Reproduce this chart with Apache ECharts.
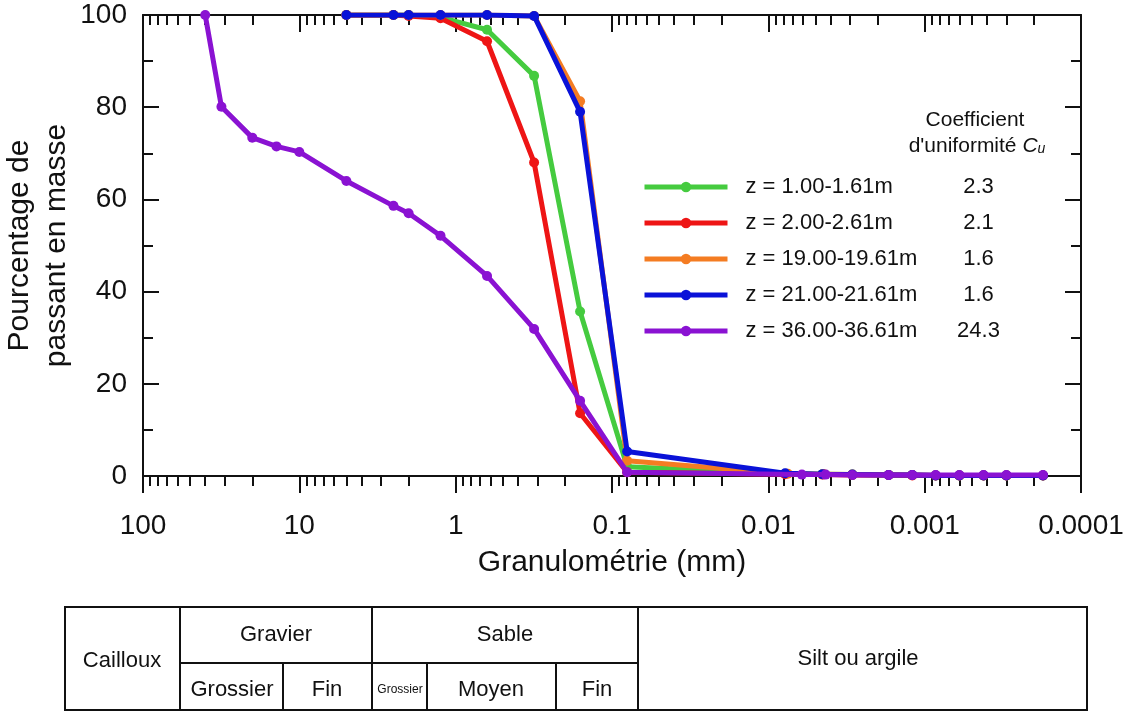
<!DOCTYPE html>
<html>
<head>
<meta charset="utf-8">
<title>Granulométrie</title>
<script src="https://cdn.jsdelivr.net/npm/echarts@6/dist/echarts.min.js"></script>
<style>
  html, body { margin: 0; padding: 0; background: #fff; }
  #main { width: 1129px; height: 712px; }
</style>
</head>
<body>
<div id="main"></div>
<script>
// séries (diamètre en mm, % passant)
var names = ['z = 1.00-1.61m', 'z = 2.00-2.61m', 'z = 19.00-19.61m', 'z = 21.00-21.61m', 'z = 36.00-36.61m'];
var cu = ['2.3', '2.1', '1.6', '1.6', '24.3'];
var colors = ['#45cb3f', '#ee1515', '#f47c22', '#0a12d8', '#8a12d2'];

var z1 = [[5, 100], [2.5, 100], [2, 100], [1.25, 99.5], [0.63, 96.8], [0.315, 86.8], [0.16, 35.7], [0.08, 2.0],
  [0.0078, 0.5], [0.0045, 0.4], [0.0029, 0.3], [0.0017, 0.2], [0.0012, 0.2], [0.00085, 0.1], [0.0006, 0.1], [0.00042, 0.1], [0.0003, 0.1], [0.000175, 0.1]];
var z2 = [[5, 100], [2.5, 100], [2, 99.8], [1.25, 99.3], [0.63, 94.3], [0.315, 68], [0.16, 13.6], [0.08, 0.8],
  [0.0078, 0.4], [0.0045, 0.3], [0.0029, 0.2], [0.0017, 0.2], [0.0012, 0.1], [0.00085, 0.1], [0.0006, 0.1], [0.00042, 0.1], [0.0003, 0.1], [0.000175, 0.1]];
var z19 = [[5, 100], [2.5, 100], [2, 100], [1.25, 100], [0.63, 100], [0.315, 99.8], [0.16, 81.3], [0.08, 3.3],
  [0.0075, 0.5], [0.0044, 0.4], [0.0029, 0.3], [0.0017, 0.2], [0.0012, 0.2], [0.00085, 0.1], [0.0006, 0.1], [0.00042, 0.1], [0.0003, 0.1], [0.000175, 0.1]];
var z21 = [[5, 100], [2.5, 100], [2, 100], [1.25, 100], [0.63, 100], [0.315, 99.8], [0.16, 79], [0.08, 5.3],
  [0.0078, 0.6], [0.0045, 0.4], [0.0029, 0.3], [0.0017, 0.2], [0.0012, 0.2], [0.00085, 0.1], [0.0006, 0.1], [0.00042, 0.1], [0.0003, 0.1], [0.000175, 0.1]];
var z36 = [[40, 100], [31.5, 80.1], [20, 73.4], [14, 71.5], [10, 70.3], [5, 64], [2.5, 58.6], [2, 57], [1.25, 52.1],
  [0.63, 43.4], [0.315, 31.9], [0.16, 16.3], [0.08, 0.8],
  [0.0061, 0.3], [0.0043, 0.3], [0.0029, 0.2], [0.0017, 0.2], [0.0012, 0.2], [0.00085, 0.2], [0.0006, 0.2], [0.00042, 0.2], [0.0003, 0.2], [0.000175, 0.2]];
var seriesData = [z1, z2, z19, z21, z36];

var yTicks = [0, 20, 40, 60, 80, 100];

// graduations secondaires 2..9 x 10^n (en log10)
var minorLog = [];
for (var n = -4; n < 2; n++) {
  for (var k = 2; k <= 9; k++) minorLog.push(n + Math.log10(k));
}

var font = 'Liberation Sans, Arial, sans-serif';
var black = '#111';

var myChart = echarts.init(document.getElementById('main'));

var series = names.map(function (nm, i) {
  return {
    name: nm,
    type: 'line',
    data: seriesData[i],
    symbol: 'circle',
    symbolSize: 10,
    lineStyle: { width: 5, color: colors[i] },
    itemStyle: { color: colors[i] },
    z: 2 + i
  };
});

function legendLabel(nm) {
  var i = names.indexOf(nm);
  return '{n|' + nm + '}{c|' + cu[i] + '}';
}

// tableau des classes granulométriques (sous le graphique)
var tableLines = [
  [180, 607, 180, 710], [372, 607, 372, 710], [638, 607, 638, 710],
  [180, 663, 638, 663],
  [283, 663, 283, 710], [427, 663, 427, 710], [556, 663, 556, 710]
];
var tableTexts = [
  ['Cailloux', 122, 661, 22], ['Gravier', 276, 635, 22], ['Sable', 505, 635, 22],
  ['Silt ou argile', 858, 659, 22], ['Grossier', 232, 690, 22], ['Fin', 327, 690, 22],
  ['Grossier', 400, 690, 12], ['Moyen', 491, 690, 22], ['Fin', 597, 690, 22]
];

var graphics = [{
  type: 'rect', shape: { x: 65, y: 607, width: 1022, height: 103 },
  style: { fill: 'none', stroke: black, lineWidth: 2 }
}];
tableLines.forEach(function (l) {
  graphics.push({ type: 'line', shape: { x1: l[0], y1: l[1], x2: l[2], y2: l[3] }, style: { stroke: black, lineWidth: 2 } });
});
tableTexts.forEach(function (t) {
  graphics.push({ type: 'text', x: t[1], y: t[2], style: { text: t[0], font: t[3] + 'px ' + font, fill: black, align: 'center', verticalAlign: 'middle' } });
});
graphics.push({ type: 'text', x: 975, y: 120, style: { text: 'Coefficient', font: '21px ' + font, fill: black, align: 'center', verticalAlign: 'middle' } });
graphics.push({
  type: 'text', x: 977, y: 146,
  style: {
    text: "{a|d'uniformité }{i|C}{s|u}", align: 'center', verticalAlign: 'middle', fill: black,
    rich: {
      a: { fontFamily: font, fontSize: 21, color: black },
      i: { fontFamily: font, fontSize: 21, fontStyle: 'italic', color: black },
      s: { fontFamily: font, fontSize: 14, fontStyle: 'italic', color: black, padding: [7, 0, 0, 0] }
    }
  }
});

var option = {
  animation: false,
  backgroundColor: '#fff',
  textStyle: { fontFamily: font },
  grid: { left: 143, right: 48, top: 15, bottom: 236, containLabel: false, outerBoundsMode: 'none' },
  legend: {
    orient: 'vertical',
    left: 637,
    top: 171,
    itemWidth: 83,
    itemHeight: 13,
    itemGap: 14,
    data: names,
    formatter: legendLabel,
    lineStyle: { width: 5 },
    textStyle: {
      rich: {
        n: { fontFamily: font, fontSize: 22, color: black, width: 203, padding: [0, 0, 0, 13] },
        c: { fontFamily: font, fontSize: 22, color: black, width: 60, align: 'center' }
      }
    }
  },
  xAxis: [{
    type: 'log',
    logBase: 10,
    min: 0.0001,
    max: 100,
    inverse: true,
    position: 'bottom',
    name: 'Granulométrie (mm)',
    nameLocation: 'middle',
    nameGap: 72,
    nameTextStyle: { fontSize: 30, color: black, fontFamily: font },
    axisLine: { onZero: false, lineStyle: { color: black, width: 2 } },
    axisTick: { length: 17, lineStyle: { color: black, width: 2 } },
    axisLabel: {
      fontSize: 28, color: black, margin: 36, fontFamily: font,
      formatter: function (v) { return String(parseFloat(v.toPrecision(6))); }
    },
    splitLine: { show: false }
  }, {
    type: 'value', min: -4, max: 2, inverse: true, position: 'bottom',
    axisLine: { show: false, onZero: false },
    axisTick: { length: 10, customValues: minorLog, lineStyle: { color: black, width: 2 } },
    axisLabel: { show: false },
    splitLine: { show: false }
  }, {
    type: 'value', min: -4, max: 2, interval: 1, inverse: true, position: 'top',
    axisLine: { onZero: false, lineStyle: { color: black, width: 2 } },
    axisTick: { inside: true, length: 17, lineStyle: { color: black, width: 2 } },
    axisLabel: { show: false },
    splitLine: { show: false }
  }, {
    type: 'value', min: -4, max: 2, inverse: true, position: 'top',
    axisLine: { show: false, onZero: false },
    axisTick: { inside: true, length: 10, customValues: minorLog, lineStyle: { color: black, width: 2 } },
    axisLabel: { show: false },
    splitLine: { show: false }
  }],
  yAxis: [{
    type: 'value', min: 0, max: 100, interval: 20, position: 'left',
    name: 'Pourcentage de\npassant en masse',
    nameLocation: 'middle',
    nameGap: 68,
    nameMoveOverlap: false,
    nameTextStyle: { fontSize: 30, color: black, lineHeight: 37, fontFamily: font },
    axisLine: { show: true, onZero: false, lineStyle: { color: black, width: 2 } },
    axisTick: { show: true, inside: true, length: 16, lineStyle: { color: black, width: 2 } },
    minorTick: { show: true, splitNumber: 2, length: 10, lineStyle: { color: black, width: 2 } },
    axisLabel: { fontSize: 28, color: black, margin: 16, fontFamily: font, customValues: yTicks },
    splitLine: { show: false }
  }, {
    type: 'value', min: 0, max: 100, interval: 20, position: 'right',
    axisLine: { show: true, onZero: false, lineStyle: { color: black, width: 2 } },
    axisTick: { show: true, inside: true, length: 16, lineStyle: { color: black, width: 2 } },
    minorTick: { show: true, splitNumber: 2, length: 10, lineStyle: { color: black, width: 2 } },
    axisLabel: { show: false },
    splitLine: { show: false }
  }],
  graphic: graphics,
  series: series
};

myChart.setOption(option);
</script>
</body>
</html>
